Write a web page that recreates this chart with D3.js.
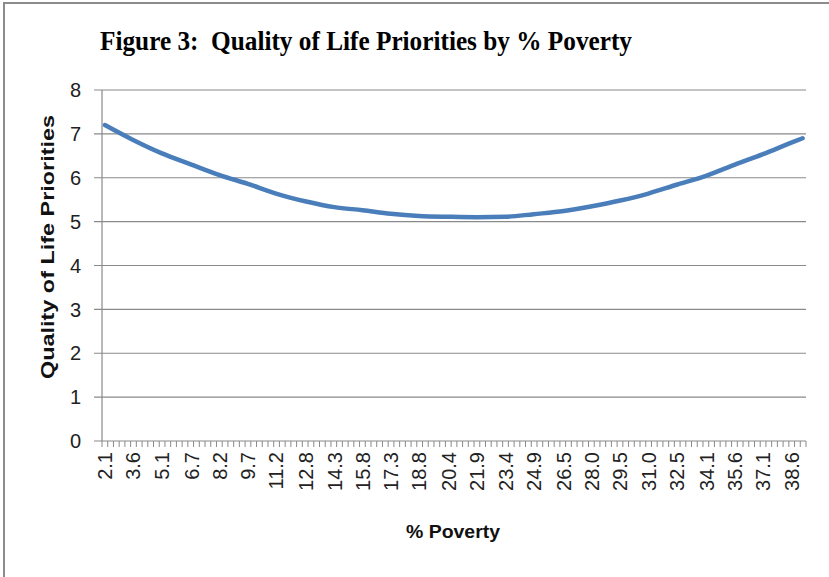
<!DOCTYPE html>
<html>
<head>
<meta charset="utf-8">
<script src="https://cdn.jsdelivr.net/npm/d3@7"></script>
<style>
  body { margin: 0; background: #fff; }
  svg { display: block; }
</style>
</head>
<body>
<div id="chart"></div>
<script>
// % poverty at the labelled categories (+ last category, unlabelled)
const povertyPct = [2.1, 3.6, 5.1, 6.7, 8.2, 9.7, 11.2, 12.8, 14.3, 15.8, 17.3, 18.8, 20.4,
  21.9, 23.4, 24.9, 26.5, 28.0, 29.5, 31.0, 32.5, 34.1, 35.6, 37.1, 38.6, 39.2];

// quality of life priorities at those points
const qolPriority = [7.20, 6.86, 6.56, 6.30, 6.06, 5.86, 5.64, 5.46, 5.33, 5.26, 5.18, 5.13, 5.11,
  5.10, 5.11, 5.17, 5.24, 5.35, 5.48, 5.64, 5.84, 6.05, 6.30, 6.54, 6.80, 6.90];

const xTickLabels = ["2.1", "3.6", "5.1", "6.7", "8.2", "9.7", "11.2", "12.8", "14.3", "15.8",
  "17.3", "18.8", "20.4", "21.9", "23.4", "24.9", "26.5", "28.0", "29.5", "31.0", "32.5",
  "34.1", "35.6", "37.1", "38.6"];

const yTicks = [0, 1, 2, 3, 4, 5, 6, 7, 8];

const width = 829, height = 577;
const plot = { left: 102, right: 806, top: 90, bottom: 441 };

// category axis runs half a category past the first / last point
const xLo = 1.946, xHi = 39.38, nCats = 123;

const labelFont = "Liberation Sans, Arial, sans-serif";

const svg = d3.select("#chart").append("svg")
  .attr("width", width)
  .attr("height", height);

// outer frame (cropped on right/bottom like the original)
svg.append("rect")
  .attr("x", 4).attr("y", 3)
  .attr("width", width + 10).attr("height", height + 10)
  .attr("fill", "none")
  .attr("stroke", "#8c8c8c")
  .attr("stroke-width", 2);

const x = d3.scaleLinear().domain([xLo, xHi]).range([plot.left, plot.right]);
const y = d3.scaleLinear().domain([0, 8]).range([plot.bottom, plot.top]);

// gridlines + y ticks
svg.append("g")
  .selectAll("line")
  .data(yTicks.filter(d => d > 0))
  .join("line")
  .attr("x1", plot.left - 8)
  .attr("x2", plot.right)
  .attr("y1", d => y(d))
  .attr("y2", d => y(d))
  .attr("stroke", "#8a8a8a")
  .attr("stroke-width", 1.2);

svg.append("g")
  .selectAll("text")
  .data(yTicks)
  .join("text")
  .attr("x", 81)
  .attr("y", d => y(d))
  .attr("dy", "0.36em")
  .attr("text-anchor", "end")
  .attr("font-family", labelFont)
  .attr("font-size", 20)
  .attr("fill", "#222")
  .text(d => d);

// y axis line
svg.append("line")
  .attr("x1", plot.left).attr("x2", plot.left)
  .attr("y1", plot.top).attr("y2", plot.bottom)
  .attr("stroke", "#8a8a8a")
  .attr("stroke-width", 1.2);

// x axis line
svg.append("line")
  .attr("x1", plot.left - 8).attr("x2", plot.right)
  .attr("y1", plot.bottom).attr("y2", plot.bottom)
  .attr("stroke", "#8a8a8a")
  .attr("stroke-width", 1.2);

// small tick marks at every category boundary
const boundaries = d3.range(nCats + 1).map(i => xLo + i * (xHi - xLo) / nCats);
svg.append("g")
  .selectAll("line")
  .data(boundaries)
  .join("line")
  .attr("x1", d => x(d)).attr("x2", d => x(d))
  .attr("y1", plot.bottom).attr("y2", plot.bottom + 6)
  .attr("stroke", "#8a8a8a")
  .attr("stroke-width", 1);

// rotated category labels
svg.append("g")
  .selectAll("text")
  .data(xTickLabels)
  .join("text")
  .attr("transform", d => `translate(${x(+d)}, 452) rotate(-90)`)
  .attr("dy", "0.36em")
  .attr("text-anchor", "end")
  .attr("font-family", labelFont)
  .attr("font-size", 20)
  .attr("fill", "#222")
  .text(d => d);

// the series
const line = d3.line()
  .x((d, i) => x(povertyPct[i]))
  .y(d => y(d))
  .curve(d3.curveMonotoneX);

svg.append("path")
  .datum(qolPriority)
  .attr("d", line)
  .attr("fill", "none")
  .attr("stroke", "#4a7ebb")
  .attr("stroke-width", 4.5)
  .attr("stroke-linecap", "round")
  .attr("stroke-linejoin", "round");

// titles
svg.append("text")
  .attr("x", 100)
  .attr("y", 50)
  .style("white-space", "pre")
  .attr("font-family", "Liberation Serif, Times New Roman, serif")
  .attr("font-weight", "bold")
  .attr("font-size", 27)
  .attr("textLength", 532)
  .attr("lengthAdjust", "spacingAndGlyphs")
  .attr("fill", "#000")
  .text("Figure 3:  Quality of Life Priorities by % Poverty");

svg.append("text")
  .attr("transform", "translate(47, 247) rotate(-90)")
  .attr("dy", "0.36em")
  .attr("text-anchor", "middle")
  .attr("font-family", labelFont)
  .attr("font-weight", "bold")
  .attr("font-size", 19)
  .attr("textLength", 264)
  .attr("lengthAdjust", "spacingAndGlyphs")
  .attr("fill", "#111")
  .text("Quality of Life Priorities");

svg.append("text")
  .attr("x", 453)
  .attr("y", 531)
  .attr("dy", "0.36em")
  .attr("text-anchor", "middle")
  .attr("font-family", labelFont)
  .attr("font-weight", "bold")
  .attr("font-size", 19)
  .attr("textLength", 94)
  .attr("lengthAdjust", "spacingAndGlyphs")
  .attr("fill", "#111")
  .text("% Poverty");
</script>
</body>
</html>
